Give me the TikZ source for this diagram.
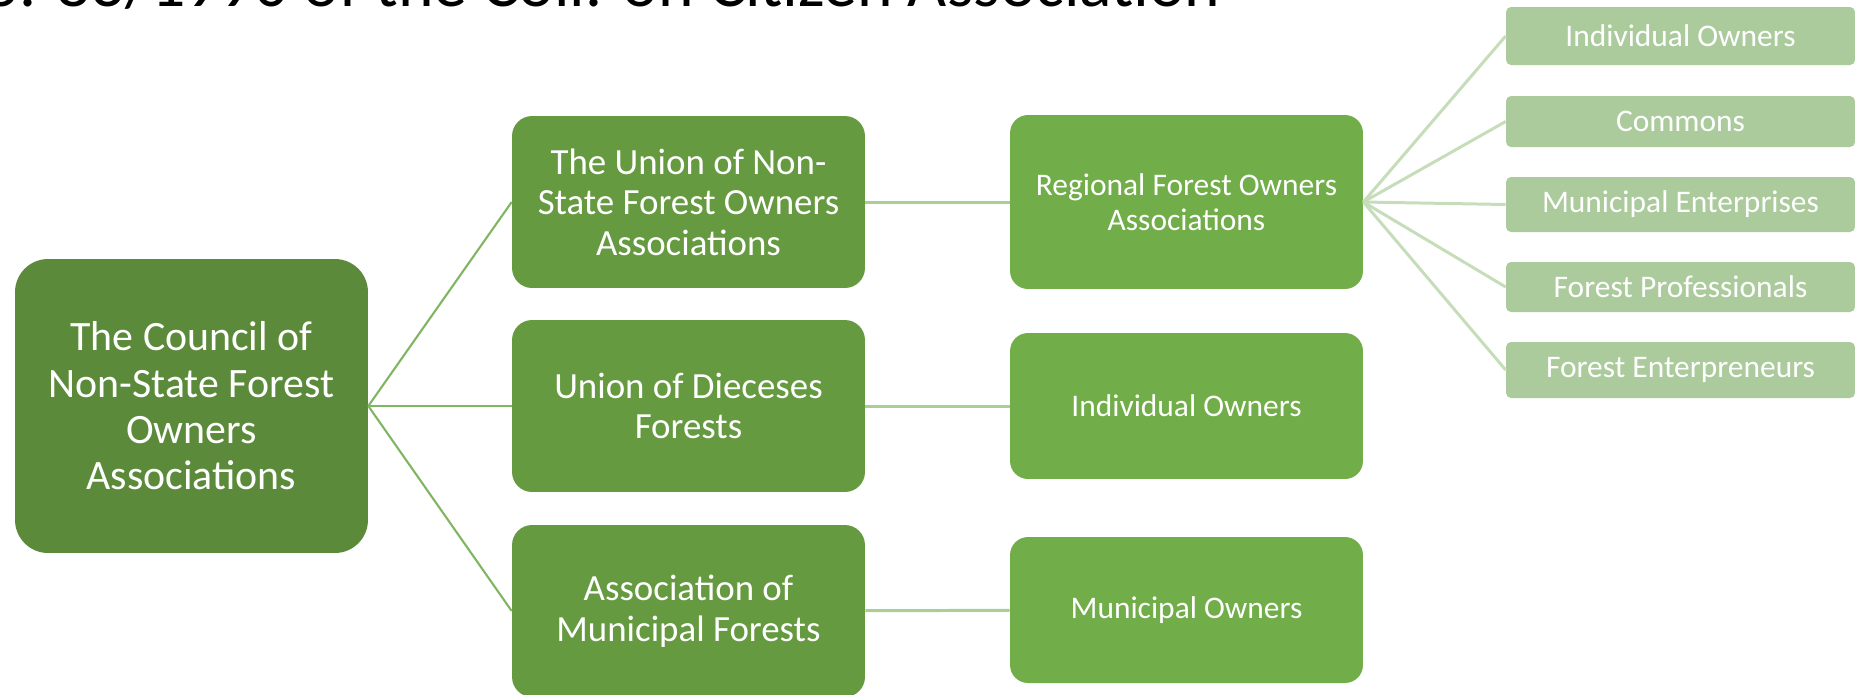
\documentclass[tikz,border=0pt]{standalone}
\usepackage{fontspec}
\setmainfont{Carlito}
\usetikzlibrary{positioning, calc}
\definecolor{councilgreen}{HTML}{5B8B3A}
\definecolor{uniongreen}{HTML}{659A40}
\definecolor{membergreen}{HTML}{71AD48}
\definecolor{leafgreen}{HTML}{ABCB9C}
\definecolor{linkdark}{HTML}{80B561}
\definecolor{linkmid}{HTML}{A9CF95}
\definecolor{linklight}{HTML}{C6DDBA}

\begin{document}
\begin{tikzpicture}[x=0.02cm, y=-0.02cm,
    box/.style={text=white, align=center, inner sep=0pt, minimum width=7.06cm},
    council/.style={box, fill=councilgreen, rounded corners=0.66cm, minimum height=5.88cm, font=\fontsize{23.8}{26.4}\selectfont},
    union/.style={box, fill=uniongreen, rounded corners=0.4cm, minimum height=3.44cm, font=\fontsize{21}{23}\selectfont},
    member/.style={box, fill=membergreen, rounded corners=0.36cm, minimum height=2.92cm, font=\fontsize{17.9}{19.7}\selectfont},
    leaf/.style={box, fill=leafgreen, rounded corners=0.1cm, minimum width=6.98cm, font=\fontsize{17.9}{19.7}\selectfont},
    link/.style={line width=1.2pt, linkdark},
    sublink/.style={line width=1.7pt, linkmid},
    leaflink/.style={line width=1.7pt, linklight}]

    \useasboundingbox (0,0) rectangle (1868,694);
    \clip (0,0) rectangle (1868,694);

    \node [anchor=base east, font=\fontsize{38.5}{44}\selectfont] (title) at (1227,6) {No. 83/1990 of the Coll. on Citizen Association};

    \node [council] (council) at (191.5,406) {The Council of\\Non-State Forest\\Owners\\Associations};

    \node [union] (nonstate) at (688.5,202) {The Union of Non-\\State Forest Owners\\Associations};
    \node [union] (dioceses) at (688.5,406) {Union of Dieceses\\Forests};
    \node [union] (municipal) at (688.5,611) {Association of\\Municipal Forests};

    \node [member, minimum height=3.48cm] (regional) at (1186.5,202) {Regional Forest Owners\\Associations};
    \node [member] (individual) at (1186.5,406) {Individual Owners};
    \node [member] (owners) at (1186.5,610) {Municipal Owners};

    \node [leaf, minimum height=1.16cm] (l1) at (1680.5,36) {Individual Owners};
    \node [leaf, minimum height=1.02cm] (l2) at (1680.5,121.5) {Commons};
    \node [leaf, minimum height=1.1cm] (l3) at (1680.5,204.5) {Municipal Enterprises};
    \node [leaf, minimum height=1.0cm] (l4) at (1680.5,287) {Forest Professionals};
    \node [leaf, minimum height=1.12cm] (l5) at (1680.5,370) {Forest Enterpreneurs};

    \foreach \n in {nonstate, dioceses, municipal}
        \draw [link] (council.east) -- (\n.west);

    \draw [sublink] (nonstate) -- (regional);
    \draw [sublink] (dioceses) -- (individual);
    \draw [sublink] (municipal) -- (owners);

    \foreach \n in {l1, l2, l3, l4, l5}
        \draw [leaflink] (regional.east) -- (\n.west);
\end{tikzpicture}
\end{document}
